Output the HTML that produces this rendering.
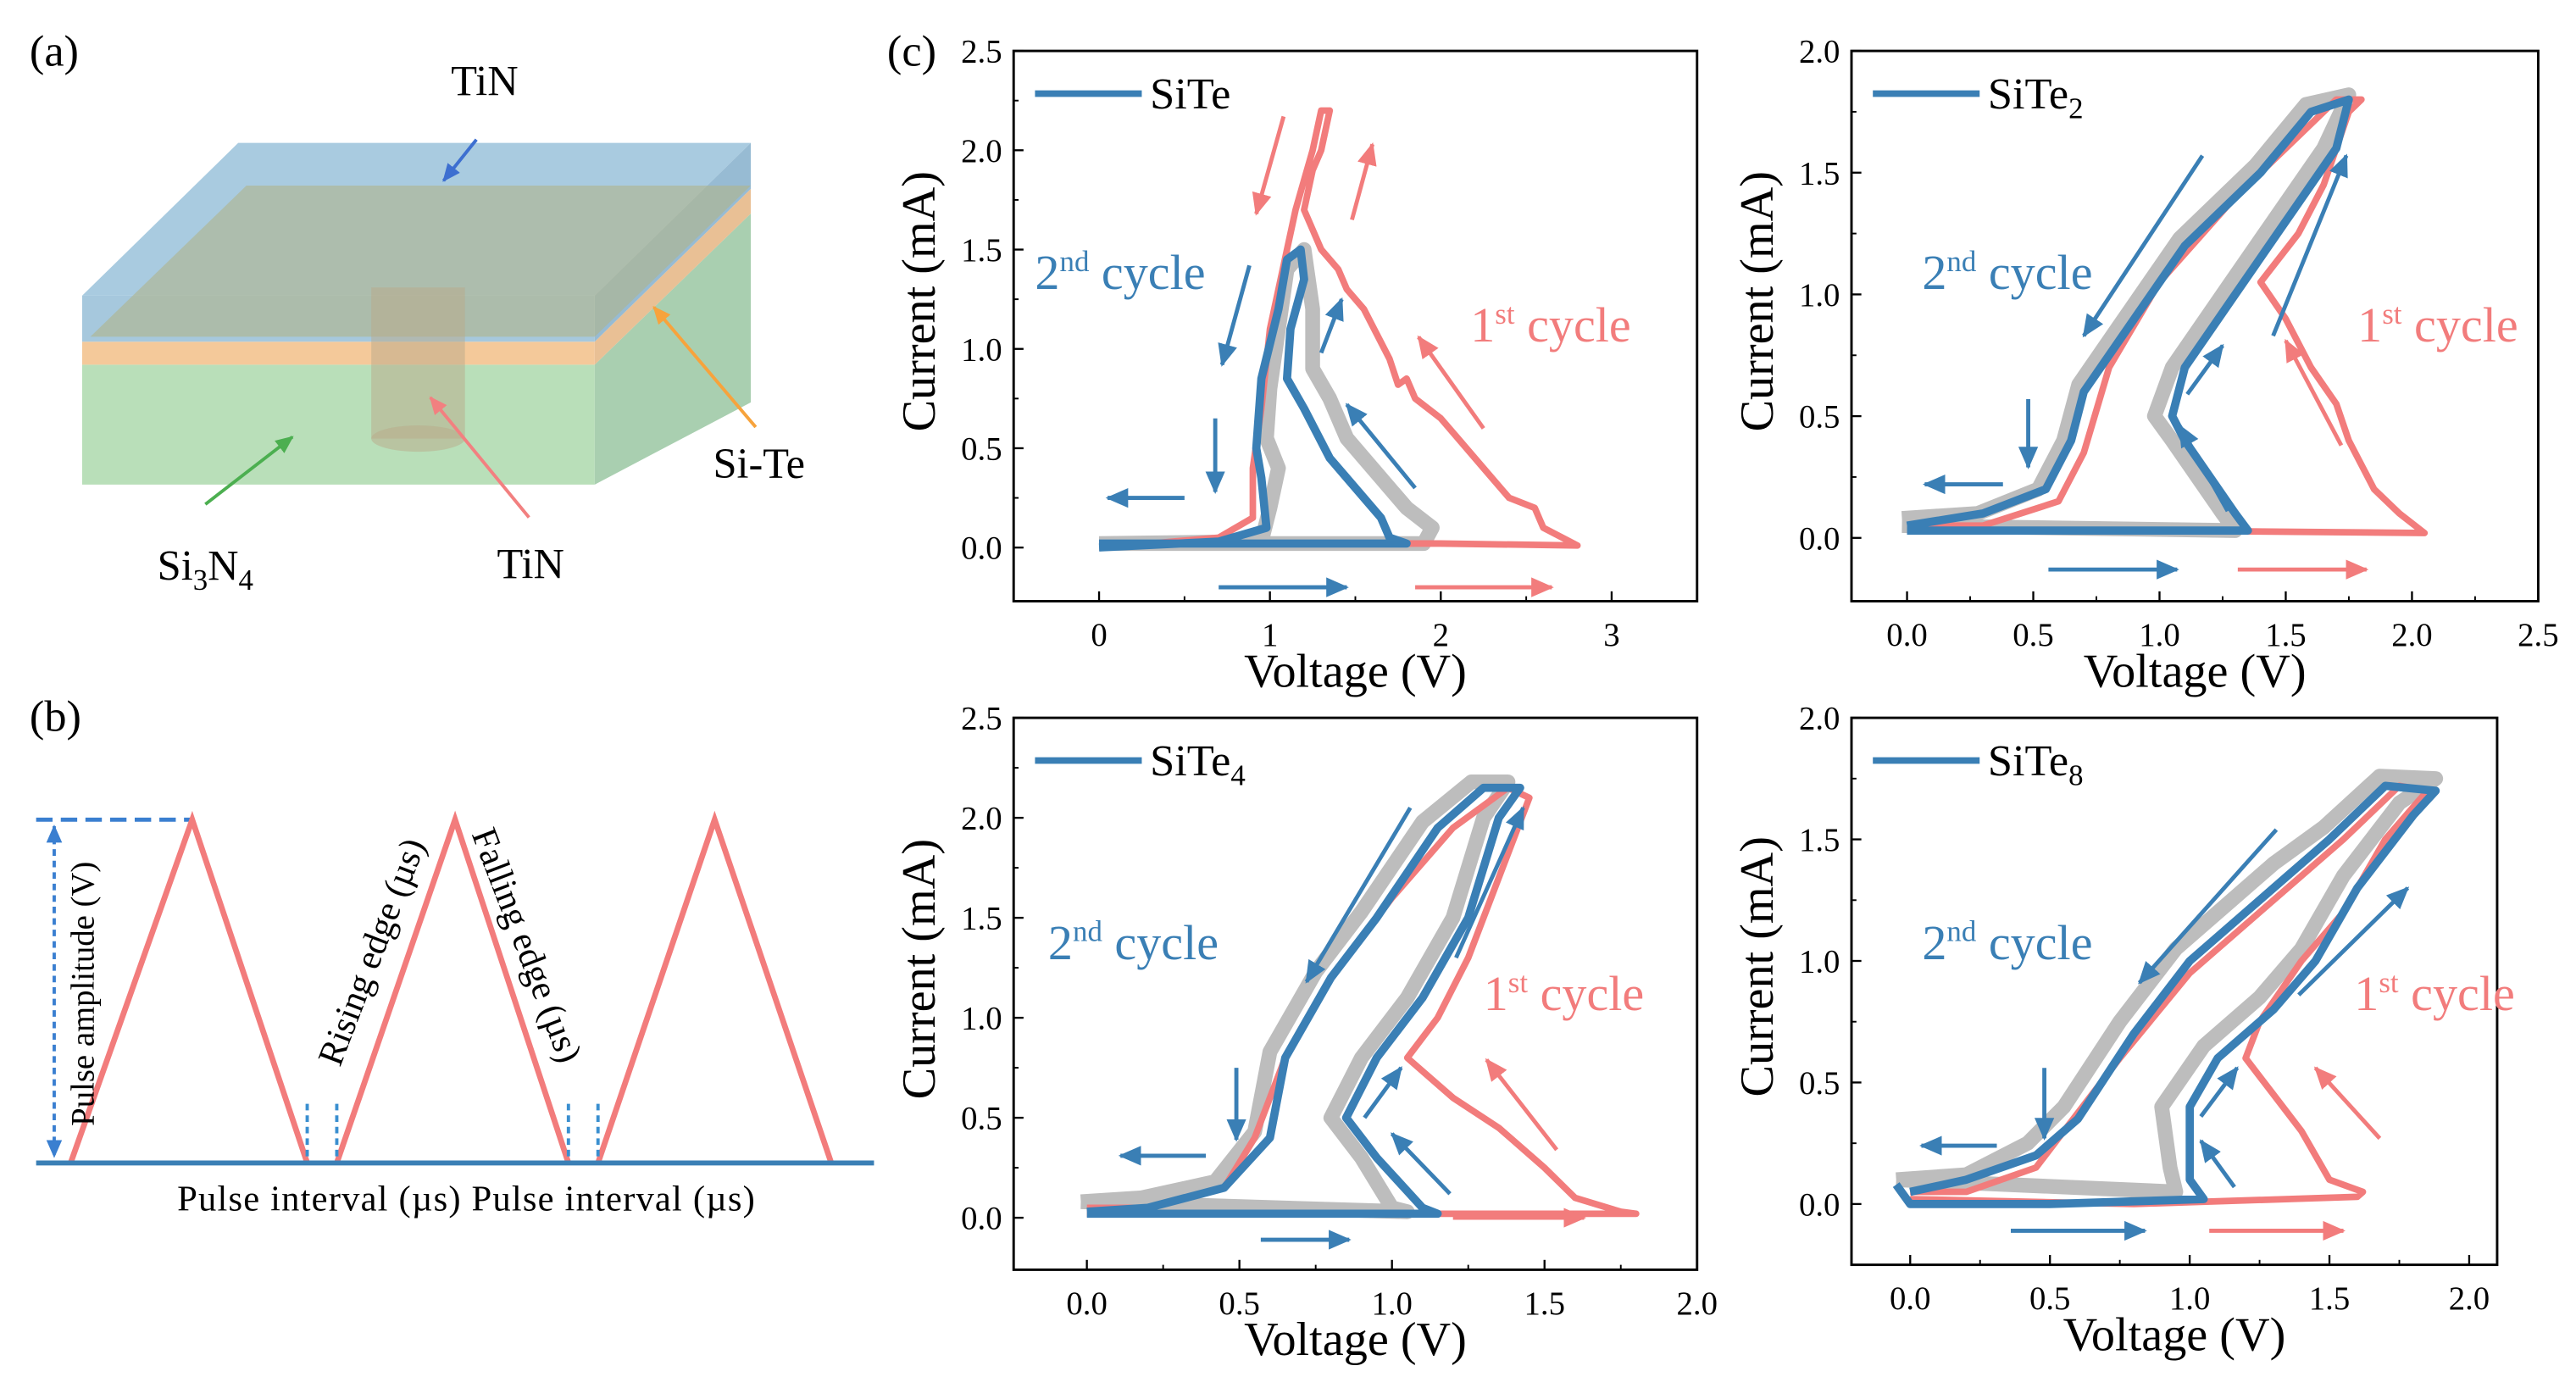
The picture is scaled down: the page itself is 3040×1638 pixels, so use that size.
<!DOCTYPE html>
<html><head><meta charset="utf-8"><style>
html,body{margin:0;padding:0;background:#fff;}
svg{display:block;font-family:"Liberation Serif",serif;}
</style></head><body>
<svg id="fig" width="3040" height="1638" viewBox="0 0 1568 845" preserveAspectRatio="none" xmlns="http://www.w3.org/2000/svg">
<defs>
<marker id="ahB" markerWidth="6" markerHeight="6" refX="5" refY="3" orient="auto" markerUnits="strokeWidth"><path d="M0,0.6 L5.5,3 L0,5.4 z" fill="#3a7fb5"/></marker>
<marker id="ahR" markerWidth="6" markerHeight="6" refX="5" refY="3" orient="auto" markerUnits="strokeWidth"><path d="M0,0.6 L5.5,3 L0,5.4 z" fill="#f27c7c"/></marker>
<marker id="ahG" markerWidth="6" markerHeight="6" refX="5" refY="3" orient="auto" markerUnits="strokeWidth"><path d="M0,0.6 L5.5,3 L0,5.4 z" fill="#4caf50"/></marker>
<marker id="ahO" markerWidth="6" markerHeight="6" refX="5" refY="3" orient="auto" markerUnits="strokeWidth"><path d="M0,0.6 L5.5,3 L0,5.4 z" fill="#f7a33c"/></marker>
<marker id="ahP" markerWidth="6" markerHeight="6" refX="5" refY="3" orient="auto" markerUnits="strokeWidth"><path d="M0,0.6 L5.5,3 L0,5.4 z" fill="#f28080"/></marker>
<marker id="ahD" markerWidth="6" markerHeight="6" refX="5" refY="3" orient="auto" markerUnits="strokeWidth"><path d="M0,0.6 L5.5,3 L0,5.4 z" fill="#3d6fd0"/></marker>
<marker id="ahV" markerWidth="6" markerHeight="6" refX="5" refY="3" orient="auto-start-reverse" markerUnits="strokeWidth"><path d="M0,0.6 L5.5,3 L0,5.4 z" fill="#3a7fd0"/></marker>
</defs>

<!-- Panel (a) -->
<g>
<text x="18" y="40" font-size="27">(a)</text>
<polygon points="50,222 362,222 362,295 50,295" fill="#b9dfb9"/>
<polygon points="362,222 457,130 457,245 362,295" fill="#a9cfb0"/>
<polygon points="50,208 362,208 362,222 50,222" fill="#f3c38f" opacity="0.9"/>
<polygon points="362,208 457,115 457,130 362,222" fill="#e7b98a" opacity="0.9"/>
<polygon points="50,180 145,87 457,87 362,180" fill="#a9cbe0"/>
<polygon points="50,180 362,180 362,208 50,208" fill="#a6c8dd"/>
<polygon points="362,180 457,87 457,115 362,208" fill="#97bbd3"/>
<polygon points="55,205 150,113 457,113 362,205" fill="#b0b48a" opacity="0.6"/>
<rect x="226" y="175" width="57" height="92" fill="#b9a98a" opacity="0.5"/>
<ellipse cx="254.5" cy="267" rx="28.5" ry="8" fill="#b9a98a" opacity="0.5"/>
<text x="295" y="58" font-size="26" text-anchor="middle">TiN</text>
<line x1="290" y1="85" x2="270" y2="110" stroke="#3d6fd0" stroke-width="2" marker-end="url(#ahD)"/>
<text x="462" y="291" font-size="26" text-anchor="middle">Si-Te</text>
<line x1="460" y1="260" x2="398" y2="187" stroke="#f7a33c" stroke-width="2" marker-end="url(#ahO)"/>
<text x="125" y="353" font-size="26" text-anchor="middle">Si<tspan font-size="18" dy="6">3</tspan><tspan dy="-6">N</tspan><tspan font-size="18" dy="6">4</tspan></text>
<line x1="125" y1="307" x2="178" y2="266" stroke="#4caf50" stroke-width="2" marker-end="url(#ahG)"/>
<text x="323" y="352" font-size="26" text-anchor="middle">TiN</text>
<line x1="322" y1="315" x2="262" y2="242" stroke="#f28080" stroke-width="2" marker-end="url(#ahP)"/>
</g>

<!-- Panel (b) -->
<g>
<text x="18" y="445" font-size="27">(b)</text>
<line x1="22" y1="499" x2="117" y2="499" stroke="#3a7fd0" stroke-width="2.5" stroke-dasharray="10,5"/>
<line x1="33" y1="503" x2="33" y2="704" stroke="#3a7fd0" stroke-width="2" stroke-dasharray="4,3" marker-start="url(#ahV)" marker-end="url(#ahV)"/>
<polyline points="43,708 117,499 187,708" fill="none" stroke="#f27c7c" stroke-width="3.5"/>
<polyline points="205,708 277,499 346,708" fill="none" stroke="#f27c7c" stroke-width="3.5"/>
<polyline points="364,708 435,499 506,708" fill="none" stroke="#f27c7c" stroke-width="3.5"/>
<g stroke="#3a8fd0" stroke-width="2" stroke-dasharray="4,3">
<line x1="187" y1="672" x2="187" y2="708"/><line x1="205" y1="672" x2="205" y2="708"/>
<line x1="346" y1="672" x2="346" y2="708"/><line x1="364" y1="672" x2="364" y2="708"/>
</g>
<line x1="22" y1="708" x2="532" y2="708" stroke="#3a7fb5" stroke-width="3"/>
<text transform="translate(57,605) rotate(-90)" font-size="20" text-anchor="middle">Pulse amplitude (V)</text>
<text transform="translate(233,582) rotate(-69)" font-size="22" text-anchor="middle">Rising edge (µs)</text>
<text transform="translate(314,578) rotate(69)" font-size="22" text-anchor="middle">Falling edge (µs)</text>
<text x="284" y="737" font-size="22" text-anchor="middle" letter-spacing="0.6">Pulse interval (µs) Pulse interval (µs)</text>
</g>

<text x="540" y="40" font-size="27">(c)</text>
<g id="charts"></g>
</svg>
<script>
// ---- SiTe ----
const siteRed = [[0,0.02],[1.0,0.02],[2.0,0.02],[2.8,0.01],[2.6,0.1],[2.55,0.2],[2.4,0.25],[2.25,0.4],[2.1,0.55],[2.0,0.65],[1.85,0.75],[1.8,0.85],[1.75,0.82],[1.7,0.95],[1.55,1.2],[1.45,1.3],[1.4,1.4],[1.3,1.5],[1.25,1.6],[1.2,1.7],[1.25,1.9],[1.3,2.0],[1.35,2.2],[1.3,2.2],[1.25,2.0],[1.2,1.85],[1.15,1.7],[1.1,1.5],[1.0,1.1],[0.95,0.7],[0.9,0.4],[0.9,0.15],[0.7,0.05],[0.3,0.02],[0,0.02]];
const siteGray = [[0,0.02],[1.9,0.02],[1.95,0.1],[1.8,0.2],[1.6,0.4],[1.45,0.55],[1.35,0.75],[1.25,0.9],[1.25,1.2],[1.2,1.5],[1.1,1.4],[1.05,1.1],[1.0,0.8],[0.98,0.55],[1.05,0.4],[1.0,0.2],[0.95,0.03],[0,0.02]];
const siteBlue = [[0,0.02],[1.8,0.02],[1.7,0.05],[1.65,0.15],[1.45,0.35],[1.35,0.45],[1.2,0.7],[1.1,0.85],[1.12,1.1],[1.2,1.35],[1.18,1.5],[1.1,1.45],[1.05,1.2],[0.95,0.85],[0.92,0.5],[0.95,0.35],[0.98,0.1],[0.7,0.03],[0,0.0]];
// ---- SiTe2 ----
const site2Red = [[0,0.03],[1.0,0.03],[2.05,0.02],[1.95,0.1],[1.85,0.2],[1.75,0.4],[1.7,0.55],[1.6,0.7],[1.5,0.9],[1.4,1.05],[1.55,1.25],[1.65,1.45],[1.75,1.75],[1.8,1.8],[1.7,1.8],[1.55,1.65],[1.3,1.4],[1.0,1.05],[0.8,0.7],[0.7,0.35],[0.6,0.15],[0.3,0.05],[0,0.05]];
const site2Gray = [[-0.02,0.05],[1.3,0.03],[1.25,0.1],[1.05,0.4],[0.98,0.5],[1.05,0.7],[1.25,1.0],[1.45,1.3],[1.65,1.6],[1.75,1.82],[1.58,1.78],[1.38,1.53],[1.08,1.23],[0.88,0.93],[0.68,0.63],[0.62,0.4],[0.52,0.2],[0.28,0.1],[-0.02,0.08]];
const site2Blue = [[0,0.03],[1.35,0.03],[1.3,0.1],[1.1,0.4],[1.05,0.5],[1.1,0.7],[1.3,1.0],[1.5,1.3],[1.7,1.6],[1.75,1.8],[1.6,1.75],[1.4,1.5],[1.1,1.2],[0.9,0.9],[0.7,0.6],[0.65,0.4],[0.55,0.2],[0.3,0.1],[0,0.05]];
// ---- SiTe4 ----
const site4Red = [[0,0.02],[1.0,0.02],[1.8,0.02],[1.75,0.03],[1.6,0.1],[1.5,0.25],[1.35,0.45],[1.2,0.6],[1.05,0.8],[1.15,1.0],[1.25,1.3],[1.35,1.7],[1.45,2.1],[1.38,2.15],[1.2,1.95],[1.0,1.6],[0.8,1.2],[0.65,0.8],[0.55,0.4],[0.45,0.15],[0.2,0.05],[0,0.05]];
const site4Gray = [[-0.02,0.08],[1.05,0.03],[1.0,0.05],[0.9,0.3],[0.8,0.5],[0.9,0.8],[1.05,1.1],[1.2,1.5],[1.3,2.0],[1.38,2.18],[1.26,2.18],[1.1,1.98],[0.9,1.53],[0.75,1.23],[0.6,0.83],[0.55,0.43],[0.42,0.18],[0.18,0.1],[-0.02,0.08]];
const site4Blue = [[0,0.02],[1.15,0.02],[1.1,0.05],[0.95,0.3],[0.85,0.5],[0.95,0.8],[1.1,1.1],[1.25,1.5],[1.35,2.0],[1.42,2.15],[1.3,2.15],[1.15,1.95],[0.95,1.5],[0.8,1.2],[0.65,0.8],[0.6,0.4],[0.45,0.15],[0.2,0.05],[0,0.03]];
// ---- SiTe8 ----
const site8Red = [[0,0.02],[0.8,0.0],[1.6,0.03],[1.62,0.05],[1.5,0.1],[1.4,0.3],[1.3,0.45],[1.2,0.6],[1.25,0.75],[1.4,1.0],[1.55,1.2],[1.7,1.5],[1.85,1.7],[1.75,1.72],[1.55,1.5],[1.35,1.3],[1.25,1.2],[1.0,0.95],[0.75,0.6],[0.55,0.3],[0.45,0.15],[0.2,0.05],[0,0.05]];
const site8Gray = [[-0.05,0.1],[0.95,0.05],[0.93,0.15],[0.9,0.4],[1.05,0.65],[1.25,0.85],[1.4,1.05],[1.55,1.35],[1.75,1.65],[1.88,1.75],[1.68,1.76],[1.48,1.55],[1.3,1.4],[1.15,1.25],[0.95,1.05],[0.75,0.75],[0.55,0.4],[0.42,0.25],[0.2,0.12],[-0.05,0.1]];
const site8Blue = [[-0.05,0.08],[0,0.0],[0.5,0.0],[1.05,0.02],[1.0,0.1],[1.0,0.4],[1.1,0.6],[1.3,0.8],[1.45,1.0],[1.6,1.3],[1.8,1.6],[1.88,1.7],[1.7,1.72],[1.5,1.5],[1.35,1.35],[1.2,1.2],[1.0,1.0],[0.8,0.7],[0.6,0.35],[0.45,0.2],[0.2,0.1],[0,0.05]];

const xTicks1 = [0,1,2,3];
const xTickLabels1 = ["0","1","2","3"];
const yTicks25 = [0,0.5,1.0,1.5,2.0,2.5];
const yTickLabels25 = ["0.0","0.5","1.0","1.5","2.0","2.5"];
const xTicks25 = [0,0.5,1.0,1.5,2.0,2.5];
const xTickLabels25 = ["0.0","0.5","1.0","1.5","2.0","2.5"];
const xTicks20 = [0,0.5,1.0,1.5,2.0];
const xTickLabels20 = ["0.0","0.5","1.0","1.5","2.0"];
const yTicks20 = [0,0.5,1.0,1.5,2.0];
const yTickLabels20 = ["0.0","0.5","1.0","1.5","2.0"];

const NS = "http://www.w3.org/2000/svg";
const root = document.getElementById('charts');
function mk(tag, attrs, parent){const e=document.createElementNS(NS,tag);for(const k in attrs)e.setAttribute(k,attrs[k]);parent.appendChild(e);return e;}

const panels = [
 {name:'site', leg:'SiTe', sub:'', box:[617,31,1033,366], xd:[-0.5,3.5], yd:[-0.27,2.5], xt:xTicks1, xl:xTickLabels1, yt:yTicks25, yl:yTickLabels25, minor:0.5, red:siteRed, gray:siteGray, blue:siteBlue,
  arrows:[['b',0.7,-0.2,1.45,-0.2],['r',1.85,-0.2,2.65,-0.2],['b',0.5,0.25,0.05,0.25],['b',0.68,0.65,0.68,0.28],['b',0.88,1.42,0.72,0.92],['b',1.3,0.98,1.42,1.25],['b',1.85,0.3,1.45,0.72],['r',1.08,2.17,0.92,1.68],['r',1.48,1.65,1.6,2.03],['r',2.25,0.6,1.87,1.06]],
  c2:[630,176], c1:[895,208]},
 {name:'site2', leg:'SiTe', sub:'2', box:[1127,31,1545,366], xd:[-0.22,2.5], yd:[-0.26,2.0], xt:xTicks25, xl:xTickLabels25, yt:yTicks20, yl:yTickLabels20, minor:0.25, red:site2Red, gray:site2Gray, blue:site2Blue,
  arrows:[['b',0.56,-0.13,1.07,-0.13],['r',1.31,-0.13,1.82,-0.13],['b',0.38,0.22,0.07,0.22],['b',0.48,0.57,0.48,0.29],['b',1.17,1.57,0.70,0.83],['b',1.11,0.59,1.25,0.79],['b',1.27,0.11,1.08,0.46],['b',1.45,0.83,1.74,1.57],['r',1.72,0.38,1.5,0.81]],
  c2:[1170,176], c1:[1435,208]},
 {name:'site4', leg:'SiTe', sub:'4', box:[617,437,1033,773], xd:[-0.24,2.0], yd:[-0.26,2.5], xt:xTicks20, xl:xTickLabels20, yt:yTicks25, yl:yTickLabels25, minor:0.25, red:site4Red, gray:site4Gray, blue:site4Blue,
  arrows:[['b',0.57,-0.11,0.86,-0.11],['r',1.2,-0.0,1.63,-0.0],['b',0.39,0.31,0.11,0.31],['b',0.49,0.75,0.49,0.39],['b',1.06,2.05,0.72,1.18],['b',1.19,0.12,1.0,0.42],['b',0.91,0.5,1.03,0.75],['b',1.21,1.3,1.43,2.05],['r',1.54,0.34,1.31,0.79]],
  c2:[638,584], c1:[903,615]},
 {name:'site8', leg:'SiTe', sub:'8', box:[1127,437,1520,770], xd:[-0.21,2.1], yd:[-0.25,2.0], xt:xTicks20, xl:xTickLabels20, yt:yTicks20, yl:yTickLabels20, minor:0.25, red:site8Red, gray:site8Gray, blue:site8Blue,
  arrows:[['b',0.36,-0.11,0.84,-0.11],['r',1.07,-0.11,1.55,-0.11],['b',0.31,0.24,0.04,0.24],['b',0.48,0.56,0.48,0.27],['b',1.31,1.54,0.82,0.91],['b',1.16,0.07,1.04,0.26],['b',1.04,0.36,1.17,0.56],['b',1.39,0.86,1.78,1.3],['r',1.68,0.27,1.45,0.56]],
  c2:[1170,584], c1:[1433,615]}
];

panels.forEach(p=>{
 const [x0,y0,x1,y1]=p.box;
 const sx=v=>x0+(v-p.xd[0])/(p.xd[1]-p.xd[0])*(x1-x0);
 const sy=v=>y1-(v-p.yd[0])/(p.yd[1]-p.yd[0])*(y1-y0);
 const g=mk('g',{},root);
 
 
 const pts=arr=>arr.map(d=>sx(d[0]).toFixed(1)+','+sy(d[1]).toFixed(1)).join(' ');
 const gr=mk('polyline',{points:pts(p.gray),fill:'none',stroke:'#bdbdbd','stroke-width':9,'stroke-linejoin':'round'},g);
 
 
 const rd=mk('polyline',{points:pts(p.red),fill:'none',stroke:'#f27c7c','stroke-width':4,'stroke-linejoin':'round'},g);
 
 
 const bl=mk('polyline',{points:pts(p.blue),fill:'none',stroke:'#3a7fb5','stroke-width':5,'stroke-linejoin':'round'},g);
 
 
 p.arrows.forEach(a=>{
  const l=mk('line',{x1:sx(a[1]),y1:sy(a[2]),x2:sx(a[3]),y2:sy(a[4]),stroke:a[0]==='b'?'#3a7fb5':'#f27c7c','stroke-width':2.5,'marker-end':a[0]==='b'?'url(#ahB)':'url(#ahR)'},g);
  
  
 });
 const fr=mk('rect',{x:x0,y:y0,width:x1-x0,height:y1-y0,fill:'none',stroke:'#000','stroke-width':1.5},g);
 
 
 p.xt.forEach((v,i)=>{
  mk('line',{x1:sx(v),y1:y1,x2:sx(v),y2:y1-6,stroke:'#000','stroke-width':1.2},g);
  const t=mk('text',{x:sx(v),y:y1+27,'font-size':20,'text-anchor':'middle'},g);
  t.textContent=p.xl[i];
  
  
 });
 for(let v=p.xt[0]+p.minor; v<p.xd[1]; v+=p.minor*2){
  mk('line',{x1:sx(v),y1:y1,x2:sx(v),y2:y1-3,stroke:'#000','stroke-width':1},g);
 }
 p.yt.forEach((v,i)=>{
  mk('line',{x1:x0,y1:sy(v),x2:x0+6,y2:sy(v),stroke:'#000','stroke-width':1.2},g);
  const t=mk('text',{x:x0-7,y:sy(v)+7,'font-size':20,'text-anchor':'end'},g);
  t.textContent=p.yl[i];
  
  
 });
 for(let v=0.25; v<p.yd[1]; v+=0.5){
  mk('line',{x1:x0,y1:sy(v),x2:x0+3,y2:sy(v),stroke:'#000','stroke-width':1},g);
 }
 const xt=mk('text',{x:(x0+x1)/2,y:y1+52,'font-size':29,'text-anchor':'middle'},g);
 xt.textContent='Voltage (V)';
 
 
 const yt=mk('text',{transform:`translate(${x0-48},${(y0+y1)/2-15}) rotate(-90)`,'font-size':29,'text-anchor':'middle'},g);
 yt.textContent='Current (mA)';
 
 
 const ll=mk('line',{x1:x0+13,y1:y0+26,x2:x0+78,y2:y0+26,stroke:'#3a7fb5','stroke-width':4},g);
 
 
 const lt=mk('text',{x:x0+83,y:y0+35,'font-size':27},g);
 lt.textContent=p.leg;
 if(p.sub){const s=mk('tspan',{'font-size':18,dy:6},lt);s.textContent=p.sub;}
 
 
 const c2=mk('text',{x:p.c2[0],y:p.c2[1],'font-size':30,fill:'#3a7fb5'},g);
 c2.appendChild(document.createTextNode('2'));
 const s2=mk('tspan',{'font-size':18,dy:-11},c2); s2.textContent='nd';
 const r2=mk('tspan',{dy:11},c2); r2.textContent=' cycle';
 
 
 const c1=mk('text',{x:p.c1[0],y:p.c1[1],'font-size':30,fill:'#f27c7c'},g);
 c1.appendChild(document.createTextNode('1'));
 const s1=mk('tspan',{'font-size':18,dy:-11},c1); s1.textContent='st';
 const r1=mk('tspan',{dy:11},c1); r1.textContent=' cycle';
 
 
});
</script>
</body></html>
